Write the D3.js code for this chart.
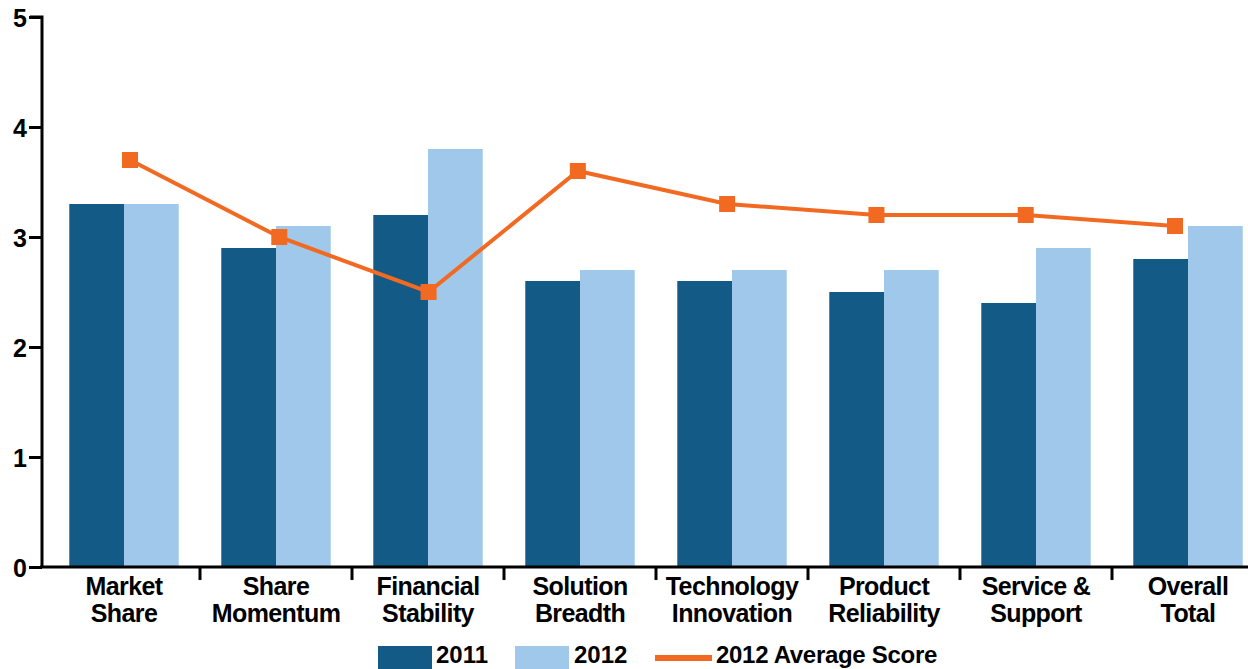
<!DOCTYPE html>
<html>
<head>
<meta charset="utf-8">
<script src="https://cdn.jsdelivr.net/npm/d3@7"></script>
<style>
  body { margin: 0; background: #fff; }
  text { font-family: "Liberation Sans", Arial, sans-serif; font-weight: bold; fill: #000; }
</style>
</head>
<body>
<div id="content"></div>
<script>
const categories = [
  ["Market", "Share"], ["Share", "Momentum"], ["Financial", "Stability"], ["Solution", "Breadth"],
  ["Technology", "Innovation"], ["Product", "Reliability"], ["Service &", "Support"], ["Overall", "Total"]
];
const values2011 = [3.3, 2.9, 3.2, 2.6, 2.6, 2.5, 2.4, 2.8];
const values2012 = [3.3, 3.1, 3.8, 2.7, 2.7, 2.7, 2.9, 3.1];
const avg2012 = [3.7, 3.0, 2.5, 3.6, 3.3, 3.2, 3.2, 3.1];
const yTicks = [0, 1, 2, 3, 4, 5];
const legendLabels = ["2011", "2012", "2012 Average Score"];

const width = 1248, height = 669;
const dark = "#135a87", light = "#9fc8ea", orange = "#f26a22";

const svg = d3.select('#content').append('svg').attr('width', width).attr('height', height);

const keys = categories.map(d => d.join(' '));
const x0 = d3.scaleBand().domain(keys).range([48, 1264]).paddingInner(0.28).paddingOuter(0.14);
const x1 = d3.scaleBand().domain(['2011', '2012']).range([0, x0.bandwidth()]);
// the average line sits on its own, slightly narrower category axis
const xLine = d3.scalePoint().domain(keys).range([130, 1175]);
const y = d3.scaleLinear().domain([0, 5]).range([567, 17]);

const rows = keys.map((k, i) => ({ key: k, v2011: values2011[i], v2012: values2012[i], avg: avg2012[i] }));

// bars
const g = svg.append('g');
rows.forEach(r => {
  g.append('rect').attr('x', x0(r.key) + x1('2011')).attr('y', y(r.v2011))
    .attr('width', x1.bandwidth()).attr('height', y(0) - y(r.v2011)).attr('fill', dark);
  g.append('rect').attr('x', x0(r.key) + x1('2012')).attr('y', y(r.v2012))
    .attr('width', x1.bandwidth()).attr('height', y(0) - y(r.v2012)).attr('fill', light);
});

// average line
const cx = d => xLine(d.key);
svg.append('path').datum(rows)
  .attr('fill', 'none').attr('stroke', orange).attr('stroke-width', 4)
  .attr('d', d3.line().x(cx).y(d => y(d.avg)));
svg.selectAll('rect.mk').data(rows).enter().append('rect').attr('class', 'mk')
  .attr('x', d => cx(d) - 8).attr('y', d => y(d.avg) - 8)
  .attr('width', 16).attr('height', 16).attr('fill', orange);

// y axis
const yAxis = svg.append('g').attr('transform', 'translate(42,0)')
  .call(d3.axisLeft(y).tickValues(yTicks).tickSize(13).tickPadding(2).tickFormat(d3.format('d')));
yAxis.select('.domain').attr('stroke', '#000').attr('stroke-width', 3).attr('d', 'M-12,17H0V567');
yAxis.selectAll('.tick line').attr('stroke', '#000').attr('stroke-width', 3);
yAxis.selectAll('.tick text').style('font-size', '25px').attr('dy', '0.36em');

// x axis
const xAxis = svg.append('g').attr('transform', 'translate(0,567)');
xAxis.append('line').attr('x1', 40).attr('x2', width).attr('stroke', '#000').attr('stroke-width', 3);
xAxis.selectAll('line.tk').data(keys.slice(1)).enter().append('line').attr('class', 'tk')
  .attr('x1', d => x0(d) - x0.step() * x0.paddingInner() / 2).attr('x2', d => x0(d) - x0.step() * x0.paddingInner() / 2)
  .attr('y1', 0).attr('y2', 13).attr('stroke', '#000').attr('stroke-width', 3);
const lbl = xAxis.selectAll('text.cat').data(categories).enter().append('text').attr('class', 'cat')
  .attr('text-anchor', 'middle').style('font-size', '25px').style('letter-spacing', '-0.6px')
  .attr('transform', (d, i) => `translate(${x0(keys[i]) + x0.bandwidth() / 2},0)`);
lbl.append('tspan').attr('x', 0).attr('y', 28).text(d => d[0]);
lbl.append('tspan').attr('x', 0).attr('y', 55).text(d => d[1]);

// legend
const leg = svg.append('g');
leg.append('rect').attr('x', 378).attr('y', 646).attr('width', 54).attr('height', 23).attr('fill', dark);
leg.append('text').attr('x', 436).attr('y', 663).style('font-size', '24px').text(legendLabels[0]);
leg.append('rect').attr('x', 515).attr('y', 646).attr('width', 54).attr('height', 23).attr('fill', light);
leg.append('text').attr('x', 574).attr('y', 663).style('font-size', '24px').text(legendLabels[1]);
leg.append('line').attr('x1', 655).attr('x2', 712).attr('y1', 658).attr('y2', 658)
  .attr('stroke', orange).attr('stroke-width', 6);
leg.append('text').attr('x', 716).attr('y', 663).style('font-size', '24px').style('letter-spacing', '-0.3px').text(legendLabels[2]);
</script>
</body>
</html>
